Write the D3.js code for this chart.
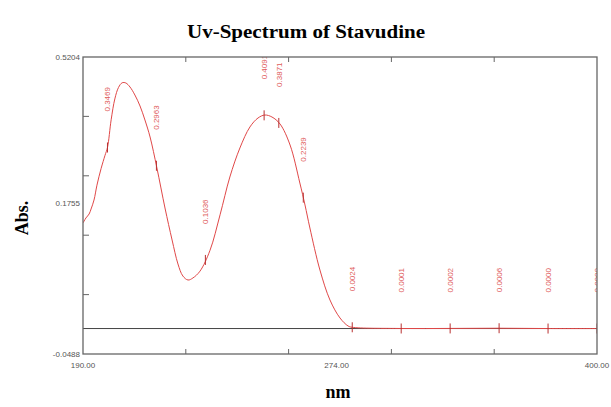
<!DOCTYPE html>
<html>
<head>
<meta charset="utf-8">
<title>Uv-Spectrum of Stavudine</title>
<script src="https://cdn.jsdelivr.net/npm/d3@7"></script>
<style>
	html, body{
		margin: 0;
		padding: 0;
		background: #fff;
	}
	.title, .axTitle{
		font-family: 'Liberation Serif', 'DejaVu Serif', serif;
		font-weight: bold;
		fill: #000;
	}
	.tickLbl{
		font-family: 'Liberation Sans', Arial, sans-serif;
		font-size: 8px;
		fill: #555;
	}
	.peakLbl{
		font-family: 'Liberation Sans', Arial, sans-serif;
		font-size: 8px;
		fill: #e05a5a;
	}
</style>
</head>
<body>
<div id="chart"></div>
<script>
	// spectrum
	var wavelength = [190, 191.2, 192.5, 193.3, 194.5, 195.7, 197.4, 199, 200, 201.5, 203, 204.5, 206, 207.5,
		209.2, 211.2, 213.3, 215.3, 217.4, 220.2, 223.5, 226.4, 228.8, 230.8, 232.9, 234.9, 237.8,
		241.9, 246, 250, 254.1, 258.2, 261.5, 264.3, 267.2, 270.5, 274.6, 278.6, 280.7, 282.7,
		286.8, 290.9, 295, 298.3, 300, 320, 340, 360, 380, 400];
	var absorbance = [0.2023, 0.2119, 0.2195, 0.2291, 0.2463, 0.2747, 0.3068, 0.3320, 0.3469, 0.4000, 0.4400, 0.4620, 0.4710, 0.4706,
		0.4629, 0.4476, 0.4265, 0.3997, 0.3671, 0.3077, 0.2310, 0.1697, 0.1237, 0.1007, 0.0930, 0.0969, 0.1100,
		0.1500, 0.2180, 0.2904, 0.3460, 0.3863, 0.4035, 0.4092, 0.4054, 0.3920, 0.3517, 0.2789, 0.2368, 0.1927,
		0.1122, 0.0547, 0.0202, 0.0049, 0.0024, 0.0001, 0.0002, 0.0006, 0.0000, 0.0000];

	// picked points printed on the trace
	var peakNm = [200, 220, 240, 264, 270, 280, 300, 320, 340, 360, 380, 400];
	var peakTxt = ['0.3469', '0.2963', '0.1036', '0.4091', '0.3871', '0.2239', '0.0024', '0.0001', '0.0002', '0.0006', '0.0000', '0.0000'];

	var xMin = 190, xMax = 400;
	var yMin = -0.0488, yMax = 0.5204;
	var xTicks = [232, 274, 316, 358];
	var yTicks = [0.0650, 0.1789, 0.2927, 0.4066];

	var W = 611, H = 407;
	var pLeft = 83, pRight = 597, pTop = 57, pBottom = 354;

	var svg = d3.select('#chart').append('svg')
		.attr('width', W)
		.attr('height', H);

	var x = d3.scaleLinear().domain([xMin, xMax]).range([pLeft, pRight]);
	var y = d3.scaleLinear().domain([yMin, yMax]).range([pBottom, pTop]);

	// absorbance of the trace at a given wavelength (linear between read points)
	function absAt(nm) {
		var i = d3.bisectLeft(wavelength, nm);
		if (i <= 0) return absorbance[0];
		if (i >= wavelength.length) return absorbance[absorbance.length - 1];
		var t = (nm - wavelength[i - 1]) / (wavelength[i] - wavelength[i - 1]);
		return absorbance[i - 1] + t * (absorbance[i] - absorbance[i - 1]);
	}

	svg.append('clipPath').attr('id', 'plotClip')
		.append('rect')
		.attr('x', pLeft).attr('y', pTop)
		.attr('width', pRight - pLeft).attr('height', pBottom - pTop);

	// zero line
	svg.append('line')
		.attr('x1', pLeft).attr('x2', pRight)
		.attr('y1', y(0)).attr('y2', y(0))
		.attr('stroke', '#444')
		.attr('stroke-width', 1);

	var plot = svg.append('g').attr('clip-path', 'url(#plotClip)');

	var pts = wavelength.map(function(d, i) { return [d, absorbance[i]]; });
	var line = d3.line()
		.x(function(d) { return x(d[0]); })
		.y(function(d) { return y(d[1]); })
		.curve(d3.curveCatmullRom);

	plot.append('path')
		.datum(pts)
		.attr('d', line)
		.attr('fill', 'none')
		.attr('stroke', '#e04848')
		.attr('stroke-width', 1);

	// markers + labels
	peakNm.forEach(function(nm, i) {
		var px = x(nm), py = y(absAt(nm));
		plot.append('line')
			.attr('x1', px).attr('x2', px)
			.attr('y1', py - 5).attr('y2', py + 5)
			.attr('stroke', '#b83030')
			.attr('stroke-width', 1);
		plot.append('text')
			.attr('class', 'peakLbl')
			.attr('transform', 'translate(' + (px + 3) + ',' + (py - 36) + ') rotate(-90)')
			.text(peakTxt[i]);
	});

	// frame
	svg.append('rect')
		.attr('x', pLeft).attr('y', pTop)
		.attr('width', pRight - pLeft).attr('height', pBottom - pTop)
		.attr('fill', 'none')
		.attr('stroke', '#666')
		.attr('stroke-width', 1.3);

	var tk = svg.append('g').attr('stroke', '#666').attr('stroke-width', 1);
	xTicks.forEach(function(t) {
		tk.append('line').attr('x1', x(t)).attr('x2', x(t)).attr('y1', pBottom).attr('y2', pBottom - 5);
		tk.append('line').attr('x1', x(t)).attr('x2', x(t)).attr('y1', pTop).attr('y2', pTop + 5);
	});
	yTicks.forEach(function(t) {
		tk.append('line').attr('x1', pLeft).attr('x2', pLeft + 6).attr('y1', y(t)).attr('y2', y(t));
	});

	// axis numbers
	svg.append('text').attr('class', 'tickLbl').attr('text-anchor', 'end')
		.attr('x', pLeft - 3).attr('y', y(yMax) + 3).text('0.5204');
	svg.append('text').attr('class', 'tickLbl').attr('text-anchor', 'end')
		.attr('x', pLeft - 3).attr('y', y(0.1755) - 31).text('0.1755');
	svg.append('text').attr('class', 'tickLbl').attr('text-anchor', 'end')
		.attr('x', pLeft - 3).attr('y', y(yMin) + 3).text('-0.0488');

	svg.append('text').attr('class', 'tickLbl').attr('text-anchor', 'middle')
		.attr('x', x(190)).attr('y', pBottom + 14).text('190.00');
	svg.append('text').attr('class', 'tickLbl').attr('text-anchor', 'middle')
		.attr('x', x(274) + 48).attr('y', pBottom + 14).text('274.00');
	svg.append('text').attr('class', 'tickLbl').attr('text-anchor', 'middle')
		.attr('x', x(400)).attr('y', pBottom + 14).text('400.00');

	// titles
	svg.append('text').attr('class', 'title')
		.attr('x', 306).attr('y', 38)
		.attr('text-anchor', 'middle')
		.attr('font-size', 18)
		.attr('textLength', 238)
		.attr('lengthAdjust', 'spacingAndGlyphs')
		.text('Uv-Spectrum of Stavudine');

	svg.append('text').attr('class', 'axTitle')
		.attr('transform', 'translate(28,218) rotate(-90)')
		.attr('text-anchor', 'middle')
		.attr('font-size', 18)
		.text('Abs.');

	svg.append('text').attr('class', 'axTitle')
		.attr('x', 338).attr('y', 398)
		.attr('text-anchor', 'middle')
		.attr('font-size', 18)
		.text('nm');
</script>
</body>
</html>
